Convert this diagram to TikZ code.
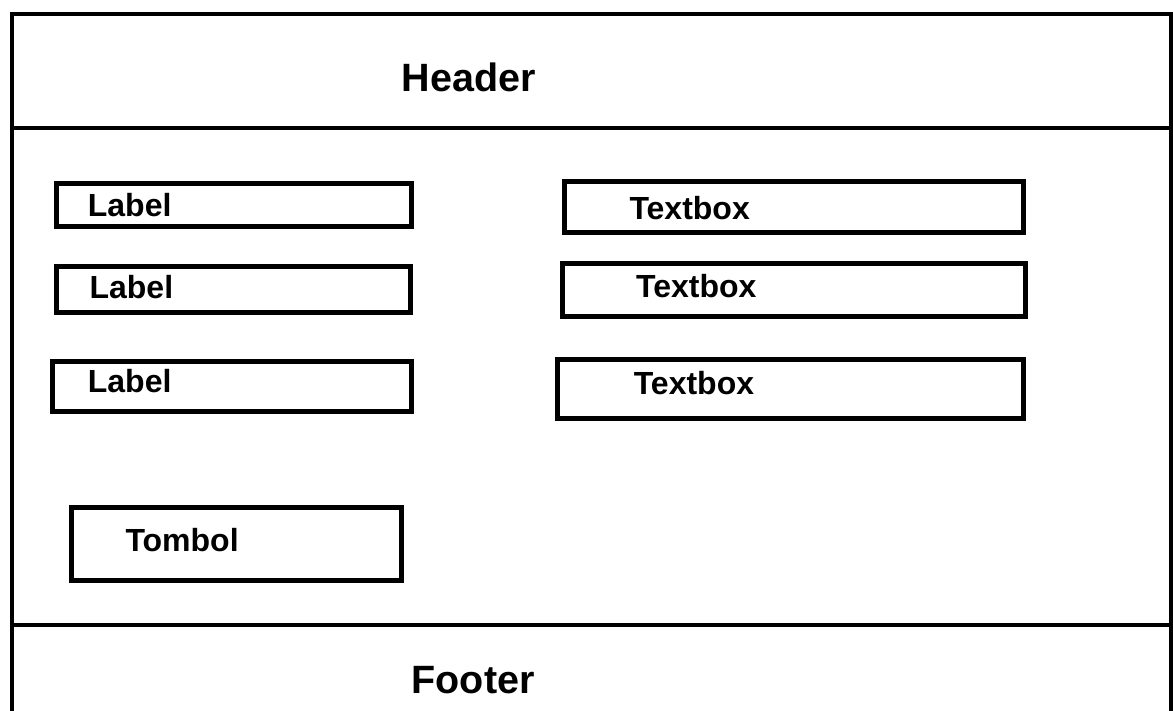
\documentclass[tikz,border=0pt]{standalone}
\usepackage{fontspec}
\setmainfont{Liberation Sans}
\usetikzlibrary{positioning}

\tikzset{
    frame/.style={line width=4.5pt},
    uibox/.style={draw, line width=5pt, shape=rectangle, inner sep=0pt},
    uitext/.style={anchor=base west, inner sep=0pt, font=\bfseries\fontsize{32}{38}\selectfont},
    bigtext/.style={anchor=base west, inner sep=0pt, font=\bfseries\fontsize{39.5}{46}\selectfont}
}

\begin{document}
\begin{tikzpicture}[x=1pt, y=-1pt]
    \clip (0,0) rectangle (1173,711);
    \fill[white] (0,0) rectangle (1173,711);
    % outer frame with header and footer
    \draw[frame] (12,720) -- (12,14) -- (1171.5,14) -- (1171.5,720);
    \draw[frame] (12,128) -- (1171.5,128);
    \draw[frame] (12,625) -- (1171.5,625);
    \node[bigtext] (header) at (401.5,91.7) {Header};
    \node[bigtext] (footer) at (411.5,693.3) {Footer};
    % labels
    \node[uibox, style={minimum width=355pt, minimum height=43pt}] (lbl1) at (234,205.5) {};
    \node[uibox, style={minimum width=353.5pt, minimum height=45.5pt}] (lbl2) at (233.25,289.75) {};
    \node[uibox, style={minimum width=359pt, minimum height=49pt}] (lbl3) at (232,386.5) {};
    \node[uitext] (lbl1t) at (87.7,216.7) {Label};
    \node[uitext] (lbl2t) at (89.4,298.3) {Label};
    \node[uitext] (lbl3t) at (87.7,392.7) {Label};
    % textboxes
    \node[uibox, style={minimum width=459pt, minimum height=50.5pt}] (tb1) at (793.5,207.25) {};
    \node[uibox, style={minimum width=463pt, minimum height=52.5pt}] (tb2) at (793.5,290.25) {};
    \node[uibox, style={minimum width=465.5pt, minimum height=58.5pt}] (tb3) at (790.25,389.25) {};
    \node[uitext] (tb1t) at (629.3,219.3) {Textbox};
    \node[uitext] (tb2t) at (636,297.7) {Textbox};
    \node[uitext] (tb3t) at (633.6,395) {Textbox};
    % button
    \node[uibox, style={minimum width=330pt, minimum height=73pt}] (btn) at (236.5,544) {};
    \node[uitext] (btnt) at (125.3,551.7) {Tombol};
\end{tikzpicture}
\end{document}
